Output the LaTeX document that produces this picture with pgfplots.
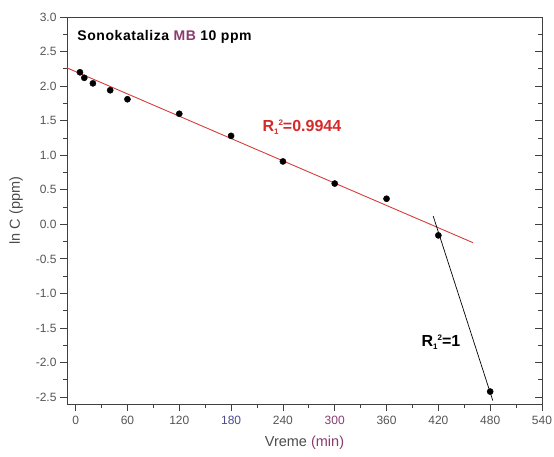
\documentclass[border=0pt]{standalone}
\usepackage{pgfplots}
\pgfplotsset{compat=1.18}
\usepackage{fontspec}
\setmainfont{Liberation Sans}
\definecolor{tickgray}{HTML}{555555}
\definecolor{fitred}{HTML}{D63C3C}
\definecolor{labred}{HTML}{D42A2A}
\definecolor{bluish}{HTML}{4A4A8C}
\definecolor{purplish}{HTML}{8A3A70}
\newcommand{\Rsq}{R\raisebox{-3bp}{\fontsize{8bp}{9bp}\selectfont 1}\raisebox{6bp}{\fontsize{8bp}{9bp}\selectfont 2}}
\begin{document}
\begin{tikzpicture}
\path[use as bounding box] (-67bp,-53bp) rectangle (487bp,404bp);
\begin{axis}[
  at={(0,0)}, anchor=south west,
  scale only axis, width=475bp, height=387bp,
  xmin=-10, xmax=540, ymin=-2.6, ymax=3.0,
  axis x line*=bottom, axis y line*=right,
  hide x axis,
  ytick={-2.5,-2,...,3},
  minor ytick={-2.25,-1.75,...,2.75},
  yticklabels={},
  axis line style={draw=black!75, line width=0.9pt, -},
  every tick/.style={black!75, line width=0.8pt},
  major tick length=7bp, minor tick length=4bp,
  tick align=inside,
]
\addplot[draw=none] coordinates {(0,0)};
\end{axis}
\begin{axis}[
  at={(0,0)}, anchor=south west,
  scale only axis, width=475bp, height=387bp,
  xmin=-10, xmax=540, ymin=-2.6, ymax=3.0,
  xtick={0,60,...,540},
  xticklabels={0,60,120,\textcolor{bluish}{180},240,\textcolor{purplish}{300},360,420,480,540},
  minor xtick={30,90,...,510},
  ytick={-2.5,-2,...,3},
  minor ytick={-2.25,-1.75,...,2.75},
  yticklabel style={/pgf/number format/.cd,fixed,fixed zerofill,precision=1},
  /pgf/number format/assume math mode=true,
  tick label style={font=\fontsize{12bp}{14bp}\selectfont, text=tickgray},
  xticklabel style={yshift=-2bp},
  axis line style={draw=black!75, line width=0.9pt},
  every tick/.style={black!75, line width=0.8pt},
  major tick length=7bp, minor tick length=4bp,
  xtick pos=bottom, ytick pos=left,
  tick align=outside,
  xlabel={Vreme \textcolor{purplish}{(min)}},
  ylabel={ln C (ppm)},
  label style={font=\fontsize{14.5bp}{17bp}\selectfont, text=black!70},
  xlabel style={yshift=-4bp},
  ylabel style={yshift=6bp},
  clip=false,
]
\addplot[fitred, line width=0.9pt] coordinates {(-10,2.264) (460,-0.265)};
\addplot[black, line width=0.7pt] coordinates {(414,0.12) (483,-2.55)};
\addplot[only marks, mark=*, mark size=3.1pt, black] coordinates {
(5,2.20) (10,2.12) (20,2.04) (40,1.94) (60,1.81) (120,1.60) (180,1.28)
(240,0.91) (300,0.59) (360,0.37) (420,-0.16) (480,-2.42)};
\node[font=\bfseries\fontsize{14bp}{16bp}\selectfont\addfontfeatures{LetterSpace=4}, anchor=west] at (axis cs:-2,2.71) {Sonokataliza \textcolor{purplish}{MB} 10 ppm};
\node[font=\bfseries\fontsize{16bp}{19bp}\selectfont, text=labred] at (axis cs:262,1.41) {\Rsq=0.9944};
\node[font=\bfseries\fontsize{16bp}{19bp}\selectfont, text=black] at (axis cs:423,-1.70) {\Rsq=1};
\end{axis}
\end{tikzpicture}
\end{document}
